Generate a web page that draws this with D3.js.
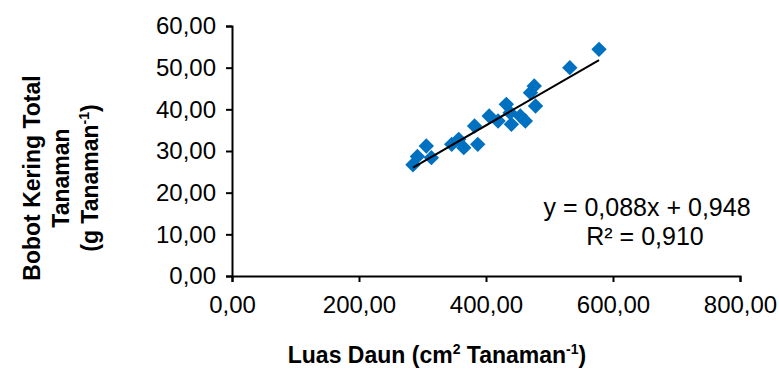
<!DOCTYPE html>
<html>
<head>
<meta charset="utf-8">
<style>
  body { margin: 0; background: #fff; }
  text { font-family: "Liberation Sans", Arial, sans-serif; fill: #000; }
</style>
</head>
<body>
<script src="https://cdn.jsdelivr.net/npm/d3@7"></script>
<script>
// luas daun (cm2 / tanaman) and bobot kering total (g / tanaman)
var luasDaun = [285, 292, 306, 314, 346, 357, 365, 387, 382, 405, 419, 432, 438, 440, 454, 462, 478, 476, 470, 532, 578];
var bobotKering = [26.7, 28.7, 31.2, 28.4, 31.6, 32.8, 30.8, 31.6, 36.0, 38.4, 37.2, 41.2, 39.2, 36.4, 38.4, 37.2, 40.8, 45.6, 44.0, 50.0, 54.4];
var xTicks = [0, 200, 400, 600, 800];
var yTicks = [0, 10, 20, 30, 40, 50, 60];
// trendline y = a x + b
var slope = 0.088, intercept = 0.948, rSquared = 0.910;

var width = 779, height = 378;
var svg = d3.select("body").append("svg")
    .attr("width", width)
    .attr("height", height);

var x = d3.scaleLinear().domain([0, 800]).range([232, 740]);
var y = d3.scaleLinear().domain([0, 60]).range([276, 26]);

var fmt = function (d) { return d3.format(".2f")(d).replace(".", ","); };

// y axis
var yAxis = svg.append("g")
    .attr("transform", "translate(" + x(0) + ",0)")
    .call(d3.axisLeft(y).tickValues(yTicks).tickSize(6).tickPadding(10).tickFormat(fmt));
// x axis
var xAxis = svg.append("g")
    .attr("transform", "translate(0," + y(0) + ")")
    .call(d3.axisBottom(x).tickValues(xTicks).tickSize(6).tickPadding(14).tickFormat(fmt));

[xAxis, yAxis].forEach(function (g) {
    g.select(".domain").attr("stroke", "#000").attr("stroke-width", 2);
    g.selectAll(".tick line").attr("stroke", "#000").attr("stroke-width", 2);
    g.selectAll(".tick text")
        .style("font-family", '"Liberation Sans", Arial, sans-serif')
        .style("font-size", "24px")
        .attr("fill", "#000");
});

var points = luasDaun.map(function (v, i) { return { x: v, y: bobotKering[i] }; });

// markers
svg.append("g").selectAll("path")
    .data(points)
    .enter()
    .append("path")
    .attr("d", d3.symbol(d3.symbolSquare, 118))
    .attr("transform", function (d) { return "translate(" + x(d.x) + "," + y(d.y) + ") rotate(45)"; })
    .attr("fill", "#0070C0");

// trendline
var xMin = d3.min(luasDaun), xMax = d3.max(luasDaun);
svg.append("line")
    .attr("x1", x(xMin)).attr("y1", y(slope * xMin + intercept))
    .attr("x2", x(xMax)).attr("y2", y(slope * xMax + intercept))
    .attr("stroke", "#000")
    .attr("stroke-width", 2);

// equation
var eq = svg.append("g").style("font-size", "25px");
eq.append("text")
    .attr("x", 647).attr("y", 216)
    .attr("text-anchor", "middle")
    .text("y = " + String(slope).replace(".", ",") + "x + " + String(intercept).replace(".", ","));
eq.append("text")
    .attr("x", 645).attr("y", 245)
    .attr("text-anchor", "middle")
    .text("R² = " + rSquared.toFixed(3).replace(".", ","));

// x title
var xt = svg.append("text")
    .attr("x", 437).attr("y", 363)
    .attr("text-anchor", "middle")
    .style("font-size", "23px")
    .style("font-weight", "bold");
xt.append("tspan").text("Luas Daun (cm");
xt.append("tspan").attr("dy", -9).style("font-size", "14px").text("2");
xt.append("tspan").attr("dy", 9).text(" Tanaman");
xt.append("tspan").attr("dy", -9).style("font-size", "14px").text("-1");
xt.append("tspan").attr("dy", 9).text(")");

// y title, three lines
var yt = svg.append("g")
    .attr("transform", "translate(0,178) rotate(-90)")
    .style("font-size", "23px")
    .style("font-weight", "bold");
yt.append("text").attr("x", 0).attr("y", 40).attr("text-anchor", "middle").text("Bobot Kering Total");
yt.append("text").attr("x", 0).attr("y", 69).attr("text-anchor", "middle").text("Tanaman");
var yt3 = yt.append("text").attr("x", 0).attr("y", 98).attr("text-anchor", "middle");
yt3.append("tspan").text("(g Tanaman");
yt3.append("tspan").attr("dy", -9).style("font-size", "14px").text("-1");
yt3.append("tspan").attr("dy", 9).text(")");
</script>
</body>
</html>
